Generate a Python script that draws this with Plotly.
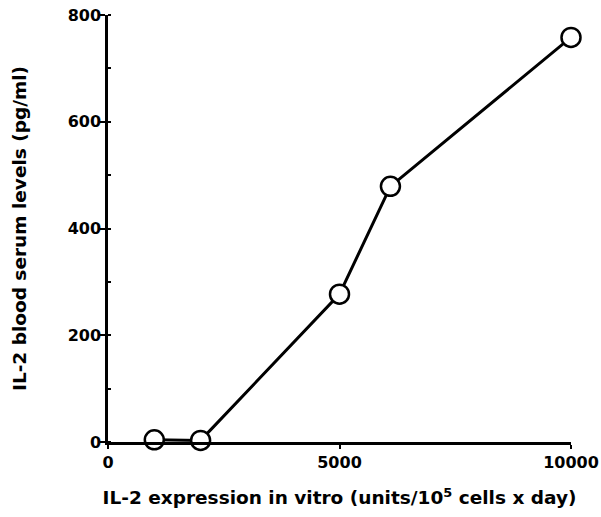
import plotly.graph_objects as go

expression = [1000, 2000, 5000, 6100, 10000]
serum = [4, 3, 277, 479, 758]
x_ticks = [0, 5000, 10000]
y_ticks = [0, 200, 400, 600, 800]

font_family = "DejaVu Sans, Liberation Sans, sans-serif"

fig = go.Figure()
fig.add_trace(go.Scatter(
    x=expression, y=serum, mode="lines+markers",
    line=dict(color="black", width=3),
    marker=dict(symbol="circle", size=19, color="white",
                line=dict(color="black", width=2.5)),
    cliponaxis=False, showlegend=False,
))

fig.update_layout(
    width=601, height=517,
    margin=dict(l=108, r=30, t=15, b=75),
    paper_bgcolor="white", plot_bgcolor="white",
    font=dict(family=font_family, color="black"),
)
fig.update_xaxes(
    range=[0, 10000], tickvals=x_ticks, ticktext=[str(v) for v in x_ticks],
    showline=True, linecolor="black", linewidth=2.5,
    ticks="outside", ticklen=4, tickwidth=2, tickcolor="black",
    ticklabeloverflow="allow",
    showgrid=False, zeroline=False, automargin=False,
    tickfont=dict(size=16, weight="bold", family=font_family),
    title=dict(text="IL-2 expression in vitro (units/10<sup>5</sup> cells x day)",
               font=dict(size=18.5, weight="bold", family=font_family), standoff=21),
)
fig.update_yaxes(
    range=[0, 800], tickvals=y_ticks, ticktext=[str(v) for v in y_ticks],
    showline=True, linecolor="black", linewidth=2.5,
    ticks="outside", ticklen=5, tickwidth=2, tickcolor="black",
    ticklabelstandoff=-4, ticklabeloverflow="allow",
    minor=dict(ticks="inside", ticklen=3, tickwidth=1.5, tickcolor="black", dtick=100, showgrid=False),
    showgrid=False, zeroline=False, automargin=False,
    tickfont=dict(size=16, weight="bold", family=font_family),
    title=dict(text="IL-2 blood serum levels (pg/ml)",
               font=dict(size=18.5, weight="bold", family=font_family), standoff=37),
)

fig.write_html("out.html", config={"displayModeBar": False},
               post_script="document.body.style.margin='0';")
